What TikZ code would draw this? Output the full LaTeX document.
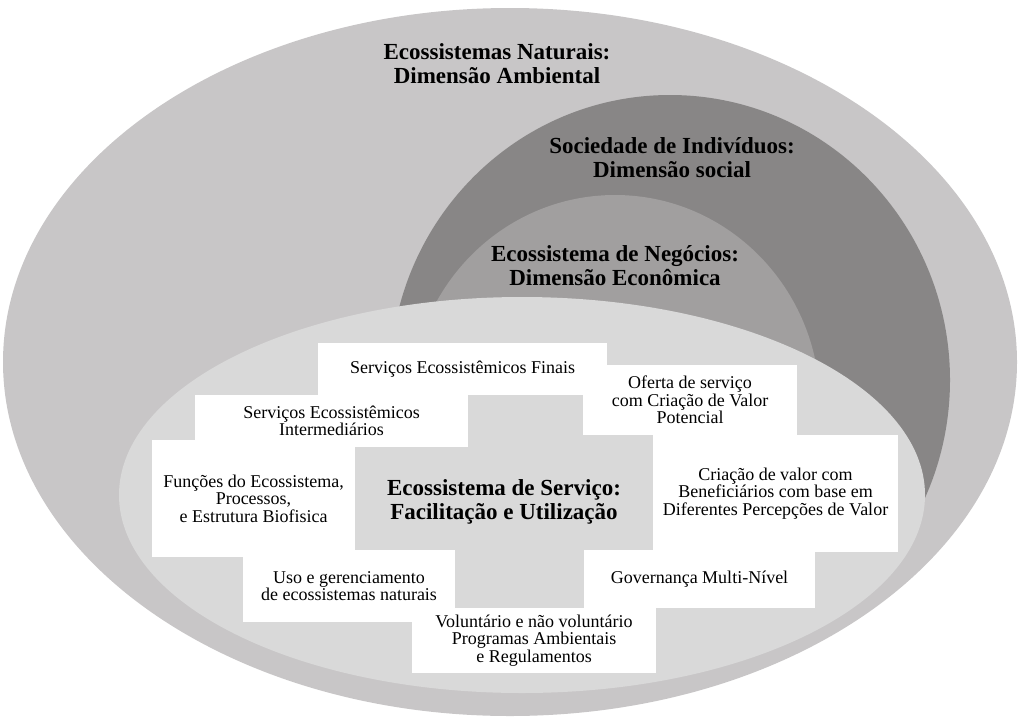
\documentclass[tikz,border=0pt]{standalone}
\usepackage{fontspec}
\setmainfont{Liberation Serif}
\definecolor{natgray}{RGB}{200,198,199}
\definecolor{socgray}{RGB}{136,134,134}
\definecolor{neggray}{RGB}{161,159,159}
\definecolor{srvgray}{RGB}{217,217,217}

\begin{document}
\begin{tikzpicture}[x=1pt,y=-1pt,
    dim/.style={font=\bfseries\fontsize{23}{24}\selectfont,align=center,inner sep=0pt},
    box/.style={fill=white,align=center,inner sep=0pt,font=\fontsize{18}{17.5}\selectfont}
  ]
  \useasboundingbox (0,0) rectangle (1019,720);
  \fill[natgray] (510,362) ellipse [x radius=507pt,y radius=354pt];
  \fill[socgray] (670,380) ellipse [x radius=280pt,y radius=285pt];
  \fill[neggray] (615,405) ellipse [x radius=205pt,y radius=210pt];
  \fill[srvgray] (522,495) ellipse [x radius=403pt,y radius=198pt];

  \node[dim] (nat) at (497,64) {Ecossistemas Naturais:\\Dimensão Ambiental};
  \node[dim] (soc) at (672,158) {Sociedade de Indivíduos:\\Dimensão social};
  \node[dim] (neg) at (615,266) {Ecossistema de Negócios:\\Dimensão Econômica};

  \node[box,minimum width=289pt,minimum height=52pt] (fin) at (462.5,369) {Serviços Ecossistêmicos Finais};
  \node[box,minimum width=214pt,minimum height=70pt] (ofe) at (690,400) {Oferta de serviço\\com Criação de Valor\\Potencial};
  \node[box,minimum width=273pt,minimum height=52pt] (int) at (331.5,421) {Serviços Ecossistêmicos\\Intermediários};
  \node[box,minimum width=203pt,minimum height=117pt] (fun) at (253.5,498.5) {Funções do Ecossistema,\\Processos,\\e Estrutura Biofisica};
  \node[box,minimum width=245pt,minimum height=117pt] (cri) at (775.5,493.5) {Criação de valor com\\Beneficiários com base em\\Diferentes Percepções de Valor};
  \node[box,minimum width=212pt,minimum height=72pt] (uso) at (349,586) {Uso e gerenciamento\\de ecossistemas naturais};
  \node[box,minimum width=231pt,minimum height=58pt] (gov) at (699.5,579) {Governança Multi-Nível};
  \node[box,minimum width=244pt,minimum height=65pt] (vol) at (534,640.5) {Voluntário e não voluntário\\Programas Ambientais\\e Regulamentos};

  \node[dim] (srv) at (504,502) {Ecossistema de Serviço:\\Facilitação e Utilização};
\end{tikzpicture}
\end{document}
